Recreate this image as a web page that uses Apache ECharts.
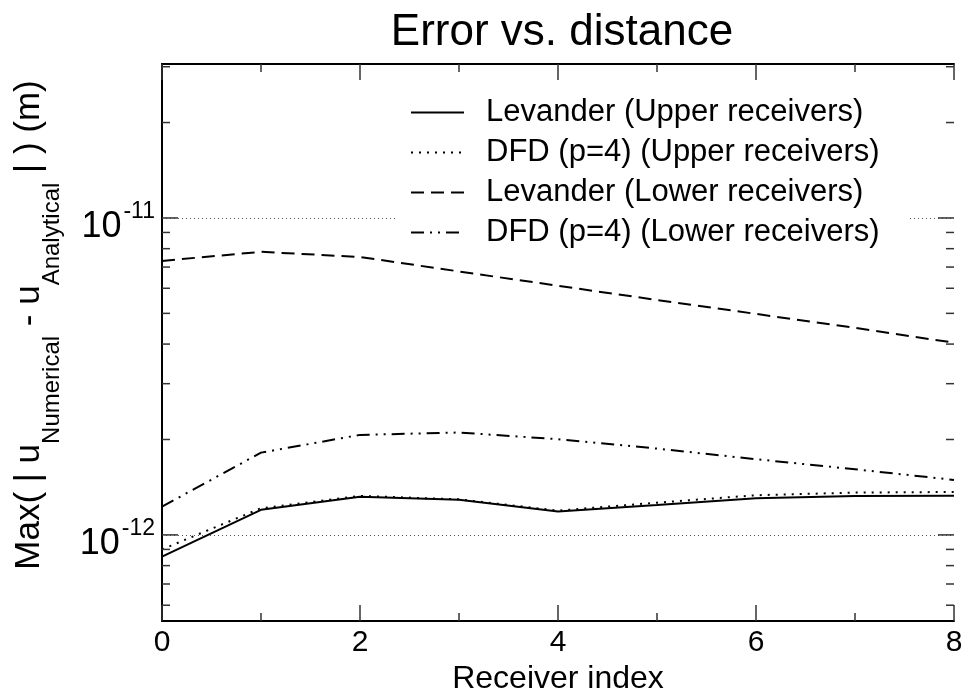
<!DOCTYPE html>
<html>
<head>
<meta charset="utf-8">
<script src="https://cdn.jsdelivr.net/npm/echarts@6/dist/echarts.min.js"></script>
<style>
  html, body { margin: 0; padding: 0; background: #fff; }
  #chart { width: 965px; height: 693px; }
</style>
</head>
<body>
<div id="chart"></div>
<script>
// ---- data ----
const receiverIndex = [0, 1, 2, 3, 4, 5, 6, 7, 8];
const levanderUpper = [8.54e-13, 1.20e-12, 1.32e-12, 1.29e-12, 1.185e-12, 1.243e-12, 1.305e-12, 1.327e-12, 1.33e-12];
const dfdUpper      = [9.0e-13, 1.214e-12, 1.327e-12, 1.295e-12, 1.193e-12, 1.264e-12, 1.334e-12, 1.36e-12, 1.366e-12];
const levanderLower = [7.32e-12, 7.82e-12, 7.53e-12, 6.78e-12, 6.11e-12, 5.51e-12, 4.98e-12, 4.50e-12, 4.04e-12];
const dfdLower      = [1.228e-12, 1.818e-12, 2.068e-12, 2.104e-12, 2.004e-12, 1.872e-12, 1.733e-12, 1.611e-12, 1.491e-12];
const seriesNames = [
  'Levander (Upper receivers)',
  'DFD (p=4) (Upper receivers)',
  'Levander (Lower receivers)',
  'DFD (p=4) (Lower receivers)'
];
const yMajorTicks = [1e-12, 1e-11];
const yMinorTicks = [6e-13, 7e-13, 8e-13, 9e-13,
  2e-12, 3e-12, 4e-12, 5e-12, 6e-12, 7e-12, 8e-12, 9e-12,
  2e-11, 3e-11];
const xMin = 0, xMax = 8;
const yMin = 5.35e-13, yMax = 3.06e-11;
const titleText = 'Error vs. distance';
const xName = 'Receiver index';

// ---- chart ----
const FONT = '"Liberation Sans", Arial, Helvetica, sans-serif';
const chart = echarts.init(document.getElementById('chart'));
const pairs = arr => arr.map((v, i) => [receiverIndex[i], v]);

const lineStyles = [
  { width: 2, type: 'solid' },
  { width: 2, type: [2, 6] },
  { width: 2, type: [13, 7] },
  { width: 2, type: [13, 6, 2, 6, 2, 6] }
];
const seriesData = [levanderUpper, dfdUpper, levanderLower, dfdLower];

const lineSeries = seriesData.map((d, k) => ({
  type: 'line',
  name: seriesNames[k],
  data: pairs(d),
  symbol: 'none',
  color: '#000',
  lineStyle: Object.assign({ color: '#000' }, lineStyles[k]),
  z: 3
}));

const tickColor = '#333';
const tickData = yMajorTicks.map(v => [xMin, v, 16]).concat(yMinorTicks.map(v => [xMin, v, 8]));

const option = {
  backgroundColor: '#fff',
  animation: false,
  textStyle: { fontFamily: FONT, color: '#000' },
  title: {
    text: titleText,
    left: 557, top: 6,
    textAlign: 'center',
    textStyle: { fontFamily: FONT, fontSize: 44, fontWeight: 'normal', color: '#000' }
  },
  grid: { left: 162, right: 11, top: 64, bottom: 72, containLabel: false, outerBoundsMode: 'none' },
  legend: {
    data: seriesNames,
    orient: 'vertical',
    left: 398, top: 87,
    padding: [10, 30, 10, 12],
    backgroundColor: '#fff',
    itemWidth: 53, itemHeight: 14, itemGap: 9,
    itemStyle: { color: 'rgba(0,0,0,0)', borderWidth: 0 },
    textStyle: { fontFamily: FONT, fontSize: 31, lineHeight: 31, color: '#000', padding: [0, 0, 0, 17] },
    selectedMode: false,
    z: 10
  },
  xAxis: [
    {
      type: 'value', position: 'bottom', min: xMin, max: xMax, interval: 2,
      name: xName, nameLocation: 'middle', nameGap: 39,
      nameTextStyle: { fontFamily: FONT, fontSize: 32, color: '#000' },
      axisLine: { lineStyle: { color: '#000', width: 2 } },
      axisTick: { inside: true, length: 16, lineStyle: { color: tickColor, width: 1.5 } },
      minorTick: { show: true, splitNumber: 2, length: 8, lineStyle: { color: tickColor, width: 1.5 } },
      axisLabel: { fontFamily: FONT, fontSize: 30, color: '#000', margin: 7 },
      splitLine: { show: false }
    },
    {
      type: 'value', position: 'top', min: xMin, max: xMax, interval: 2,
      axisLine: { lineStyle: { color: '#000', width: 2 } },
      axisTick: { inside: true, length: 16, lineStyle: { color: tickColor, width: 1.5 } },
      minorTick: { show: true, splitNumber: 2, length: 8, lineStyle: { color: tickColor, width: 1.5 } },
      axisLabel: { show: false },
      splitLine: { show: false }
    }
  ],
  yAxis: [
    {
      type: 'log', logBase: 10, position: 'left', min: yMin, max: yMax,
      axisLine: { show: true, lineStyle: { color: '#000', width: 2 } },
      axisTick: { show: false },
      axisLabel: {
        showMinLabel: false, showMaxLabel: false, margin: 7,
        formatter: v => '{b|10}{s|' + Math.round(Math.log10(v)) + '}',
        rich: {
          b: { fontFamily: FONT, fontSize: 36, lineHeight: 36, verticalAlign: 'bottom', color: '#000' },
          s: { fontFamily: FONT, fontSize: 23, lineHeight: 54, verticalAlign: 'top', padding: [9, 0, 0, 2], color: '#000' }
        }
      },
      splitLine: { show: true, lineStyle: { color: '#555', width: 1, type: [1, 3] } }
    },
    {
      type: 'log', logBase: 10, position: 'right', min: yMin, max: yMax,
      axisLine: { show: true, lineStyle: { color: '#000', width: 2 } },
      axisTick: { show: false },
      axisLabel: { show: false },
      splitLine: { show: false }
    }
  ],
  graphic: [
    {
      type: 'text',
      x: 38, y: 325,
      rotation: Math.PI / 2,
      style: {
        text: '{m|Max( | u}{sub|Numerical}{m| - u}{sub|Analytical}{m| | ) (m)}',
        textAlign: 'center',
        textVerticalAlign: 'middle',
        fill: '#000',
        font: '35px ' + FONT,
        rich: {
          m: { fontFamily: FONT, fontSize: 35, lineHeight: 35, verticalAlign: 'top', fill: '#000', color: '#000' },
          sub: { fontFamily: FONT, fontSize: 24, lineHeight: 53, verticalAlign: 'bottom', fill: '#000', color: '#000' }
        }
      }
    }
  ],
  series: lineSeries.concat([
    {
      type: 'custom',
      name: 'yTicks',
      silent: true,
      xAxisIndex: 0, yAxisIndex: 0,
      data: tickData,
      clip: false,
      z: 5,
      renderItem: (params, api) => {
        const v = api.value(1);
        const len = api.value(2);
        const l = api.coord([xMin, v]);
        const r = api.coord([xMax, v]);
        const st = { stroke: tickColor, lineWidth: 1.5 };
        return {
          type: 'group',
          children: [
            { type: 'line', shape: { x1: l[0], y1: l[1], x2: l[0] + len, y2: l[1] }, style: st },
            { type: 'line', shape: { x1: r[0] - len, y1: r[1], x2: r[0], y2: r[1] }, style: st }
          ]
        };
      }
    }
  ])
};
chart.setOption(option);
</script>
</body>
</html>
